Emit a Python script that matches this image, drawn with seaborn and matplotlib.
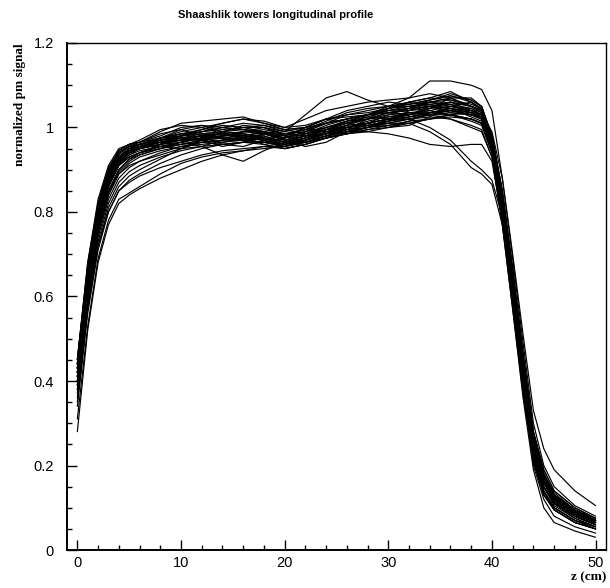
import numpy as np
import pandas as pd
import matplotlib
matplotlib.use("Agg")
import matplotlib.pyplot as plt
from matplotlib.ticker import MultipleLocator, FormatStrFormatter
import seaborn as sns

z_cm = [0, 1, 2, 3, 4, 5, 6, 8, 10, 12, 14, 16, 18, 20, 22, 24, 26, 28, 30,
        32, 34, 36, 38, 39, 40, 41, 42, 43, 44, 45, 46, 48, 50]

# normalized pm signal, one list per tower
tower_01 = [0.45, 0.67, 0.81, 0.90, 0.945, 0.96, 0.965, 0.99, 1.01, 1.015, 1.02, 1.025, 1.01, 1.0, 1.02, 1.04, 1.05,
            1.06, 1.065, 1.07, 1.08, 1.07, 1.05, 1.04, 0.97, 0.82, 0.63, 0.43, 0.25, 0.17, 0.12, 0.085, 0.065]
tower_02 = [0.44, 0.66, 0.80, 0.89, 0.94, 0.955, 0.96, 0.975, 0.985, 0.99, 1.0, 0.995, 0.99, 0.975, 0.99, 1.01, 1.03,
            1.04, 1.05, 1.06, 1.07, 1.085, 1.06, 1.04, 0.97, 0.83, 0.64, 0.44, 0.26, 0.17, 0.13, 0.09, 0.07]
tower_03 = [0.43, 0.65, 0.80, 0.885, 0.93, 0.95, 0.955, 0.965, 0.97, 0.975, 0.98, 0.99, 0.985, 0.97, 0.98, 0.995, 1.0,
            1.01, 1.02, 1.03, 1.04, 1.05, 1.04, 1.03, 0.96, 0.81, 0.62, 0.42, 0.24, 0.16, 0.12, 0.085, 0.065]
tower_04 = [0.42, 0.64, 0.79, 0.88, 0.925, 0.945, 0.95, 0.96, 0.975, 0.985, 0.975, 0.97, 0.98, 0.965, 0.975, 0.99, 1.005,
            1.02, 1.035, 1.04, 1.05, 1.04, 1.03, 1.025, 0.95, 0.79, 0.59, 0.39, 0.22, 0.14, 0.10, 0.07, 0.055]
tower_05 = [0.41, 0.63, 0.78, 0.87, 0.915, 0.94, 0.95, 0.965, 0.98, 0.995, 1.005, 1.0, 0.99, 0.98, 1.0, 1.02, 1.025,
            1.03, 1.04, 1.045, 1.06, 1.07, 1.05, 1.04, 0.98, 0.85, 0.66, 0.46, 0.27, 0.18, 0.13, 0.095, 0.07]
tower_06 = [0.44, 0.66, 0.81, 0.895, 0.94, 0.955, 0.96, 0.97, 0.975, 0.97, 0.965, 0.975, 0.985, 0.97, 0.98, 1.0, 1.015,
            1.02, 1.03, 1.035, 1.03, 1.02, 1.0, 0.99, 0.93, 0.77, 0.57, 0.37, 0.21, 0.13, 0.095, 0.065, 0.05]
tower_07 = [0.40, 0.61, 0.76, 0.85, 0.90, 0.925, 0.935, 0.95, 0.96, 0.97, 0.98, 0.985, 0.975, 0.96, 0.97, 0.985, 1.0,
            1.015, 1.025, 1.03, 1.045, 1.06, 1.05, 1.035, 0.97, 0.83, 0.64, 0.44, 0.26, 0.17, 0.125, 0.09, 0.07]
tower_08 = [0.38, 0.59, 0.74, 0.83, 0.88, 0.905, 0.92, 0.94, 0.955, 0.965, 0.97, 0.975, 0.97, 0.955, 0.965, 0.98, 0.99,
            1.0, 1.01, 1.02, 1.03, 1.035, 1.03, 1.02, 0.96, 0.82, 0.63, 0.43, 0.25, 0.165, 0.12, 0.085, 0.065]
tower_09 = [0.36, 0.57, 0.72, 0.80, 0.85, 0.87, 0.885, 0.905, 0.92, 0.935, 0.945, 0.95, 0.955, 0.95, 0.96, 0.975, 0.985,
            0.995, 1.0, 1.01, 1.02, 1.03, 1.02, 1.01, 0.95, 0.80, 0.61, 0.41, 0.23, 0.15, 0.11, 0.08, 0.06]
tower_10 = [0.28, 0.52, 0.68, 0.77, 0.82, 0.84, 0.855, 0.88, 0.90, 0.92, 0.935, 0.945, 0.955, 0.955, 0.965, 0.98, 0.99,
            1.0, 1.005, 1.01, 1.02, 1.03, 1.02, 1.01, 0.96, 0.81, 0.62, 0.42, 0.24, 0.16, 0.12, 0.085, 0.065]
tower_11 = [0.31, 0.53, 0.69, 0.78, 0.83, 0.845, 0.86, 0.89, 0.915, 0.93, 0.94, 0.945, 0.95, 0.955, 0.97, 0.985, 1.0,
            1.01, 1.02, 1.025, 1.03, 1.04, 1.03, 1.02, 0.97, 0.84, 0.66, 0.46, 0.28, 0.19, 0.14, 0.10, 0.075]
tower_12 = [0.42, 0.63, 0.78, 0.87, 0.92, 0.94, 0.95, 0.96, 0.965, 0.955, 0.935, 0.92, 0.945, 0.965, 0.98, 0.995, 1.005,
            1.01, 1.02, 1.03, 1.035, 1.04, 1.03, 1.02, 0.95, 0.80, 0.61, 0.41, 0.23, 0.15, 0.11, 0.08, 0.06]
tower_13 = [0.43, 0.65, 0.80, 0.885, 0.93, 0.95, 0.96, 0.97, 0.98, 0.99, 0.995, 1.0, 1.0, 0.99, 1.03, 1.07, 1.085,
            1.065, 1.05, 1.055, 1.06, 1.05, 1.04, 1.03, 0.96, 0.82, 0.63, 0.43, 0.25, 0.165, 0.12, 0.085, 0.065]
tower_14 = [0.42, 0.64, 0.79, 0.875, 0.925, 0.945, 0.955, 0.97, 0.98, 0.985, 0.99, 0.995, 0.985, 0.975, 0.99, 1.01, 1.02,
            1.03, 1.05, 1.07, 1.11, 1.11, 1.10, 1.09, 1.04, 0.88, 0.69, 0.49, 0.30, 0.20, 0.15, 0.105, 0.08]
tower_15 = [0.41, 0.63, 0.78, 0.87, 0.915, 0.935, 0.945, 0.955, 0.965, 0.975, 0.98, 0.985, 0.98, 0.965, 0.98, 0.995, 1.0,
            1.005, 1.01, 1.01, 0.99, 0.96, 0.905, 0.89, 0.865, 0.77, 0.60, 0.41, 0.23, 0.15, 0.11, 0.08, 0.06]
tower_16 = [0.39, 0.60, 0.75, 0.84, 0.89, 0.915, 0.93, 0.945, 0.955, 0.96, 0.965, 0.97, 0.965, 0.955, 0.97, 0.99, 1.0,
            1.01, 1.02, 1.02, 1.0, 0.97, 0.92, 0.90, 0.875, 0.79, 0.61, 0.42, 0.24, 0.16, 0.115, 0.08, 0.06]
tower_17 = [0.43, 0.65, 0.80, 0.88, 0.925, 0.945, 0.95, 0.96, 0.97, 0.98, 0.985, 0.98, 0.97, 0.96, 0.975, 0.985, 0.99,
            0.99, 0.985, 0.975, 0.96, 0.955, 0.96, 0.96, 0.92, 0.78, 0.60, 0.40, 0.22, 0.14, 0.10, 0.07, 0.05]
tower_18 = [0.44, 0.67, 0.82, 0.90, 0.94, 0.955, 0.96, 0.975, 0.99, 1.0, 1.01, 1.02, 1.015, 1.0, 1.005, 1.02, 1.03,
            1.035, 1.045, 1.055, 1.065, 1.075, 1.065, 1.05, 0.98, 0.84, 0.65, 0.45, 0.27, 0.18, 0.13, 0.09, 0.07]
tower_19 = [0.42, 0.64, 0.79, 0.88, 0.925, 0.945, 0.955, 0.965, 0.97, 0.97, 0.975, 0.98, 0.99, 0.985, 0.99, 1.0, 1.01,
            1.025, 1.04, 1.05, 1.055, 1.045, 1.025, 1.015, 0.95, 0.80, 0.61, 0.41, 0.23, 0.15, 0.105, 0.075, 0.055]
tower_20 = [0.40, 0.62, 0.77, 0.86, 0.91, 0.93, 0.94, 0.955, 0.96, 0.965, 0.96, 0.965, 0.975, 0.97, 0.985, 1.005, 1.02,
            1.03, 1.035, 1.04, 1.045, 1.05, 1.045, 1.03, 0.96, 0.82, 0.63, 0.43, 0.25, 0.17, 0.125, 0.09, 0.07]
tower_21 = [0.45, 0.68, 0.83, 0.91, 0.95, 0.96, 0.965, 0.975, 0.98, 0.985, 0.99, 0.985, 0.975, 0.965, 0.97, 0.98, 0.995,
            1.005, 1.015, 1.025, 1.035, 1.04, 1.035, 1.025, 0.95, 0.78, 0.58, 0.38, 0.20, 0.12, 0.08, 0.055, 0.04]
tower_22 = [0.41, 0.62, 0.77, 0.86, 0.91, 0.93, 0.94, 0.95, 0.96, 0.97, 0.975, 0.975, 0.97, 0.96, 0.97, 0.985, 0.995,
            1.0, 1.01, 1.02, 1.03, 1.03, 1.02, 1.01, 0.94, 0.77, 0.57, 0.36, 0.19, 0.10, 0.065, 0.045, 0.03]
tower_23 = [0.43, 0.65, 0.79, 0.88, 0.925, 0.945, 0.955, 0.965, 0.975, 0.98, 0.985, 0.99, 0.99, 0.98, 0.995, 1.01, 1.02,
            1.03, 1.04, 1.045, 1.05, 1.055, 1.045, 1.035, 0.99, 0.88, 0.70, 0.51, 0.33, 0.24, 0.19, 0.14, 0.105]
tower_24 = [0.37, 0.58, 0.73, 0.82, 0.87, 0.895, 0.91, 0.93, 0.945, 0.955, 0.96, 0.965, 0.96, 0.95, 0.96, 0.975, 0.99,
            1.0, 1.015, 1.025, 1.035, 1.045, 1.04, 1.03, 0.97, 0.83, 0.64, 0.44, 0.26, 0.17, 0.125, 0.09, 0.07]
tower_25 = [0.44, 0.66, 0.81, 0.895, 0.94, 0.955, 0.96, 0.97, 0.975, 0.98, 0.975, 0.97, 0.965, 0.96, 0.975, 0.995, 1.01,
            1.02, 1.025, 1.035, 1.04, 1.03, 1.015, 1.005, 0.94, 0.79, 0.59, 0.39, 0.21, 0.135, 0.095, 0.065, 0.05]
tower_26 = [0.42, 0.63, 0.78, 0.87, 0.92, 0.94, 0.95, 0.96, 0.97, 0.98, 0.99, 1.0, 1.005, 0.995, 1.0, 1.01, 1.02,
            1.03, 1.045, 1.06, 1.07, 1.065, 1.05, 1.04, 0.97, 0.83, 0.64, 0.44, 0.26, 0.17, 0.125, 0.09, 0.065]
tower_27 = [0.39, 0.60, 0.75, 0.845, 0.895, 0.92, 0.935, 0.95, 0.965, 0.975, 0.98, 0.98, 0.975, 0.96, 0.965, 0.975, 0.985,
            0.995, 1.005, 1.015, 1.02, 1.025, 1.02, 1.01, 0.95, 0.80, 0.60, 0.40, 0.22, 0.14, 0.10, 0.07, 0.055]
tower_28 = [0.45, 0.68, 0.82, 0.905, 0.945, 0.96, 0.965, 0.98, 1.0, 1.005, 1.0, 0.995, 0.99, 0.975, 0.985, 1.0, 1.015,
            1.03, 1.045, 1.05, 1.06, 1.065, 1.055, 1.045, 0.98, 0.85, 0.66, 0.46, 0.28, 0.18, 0.135, 0.095, 0.075]
tower_29 = [0.34, 0.56, 0.71, 0.80, 0.85, 0.875, 0.89, 0.915, 0.935, 0.95, 0.96, 0.965, 0.965, 0.955, 0.965, 0.98, 0.995,
            1.005, 1.015, 1.02, 1.025, 1.02, 1.005, 0.995, 0.93, 0.78, 0.59, 0.39, 0.21, 0.13, 0.095, 0.065, 0.05]
tower_30 = [0.43, 0.65, 0.80, 0.885, 0.93, 0.95, 0.955, 0.965, 0.97, 0.975, 0.98, 0.99, 0.995, 0.985, 0.995, 1.015, 1.035,
            1.045, 1.05, 1.05, 1.055, 1.06, 1.05, 1.04, 0.97, 0.84, 0.65, 0.45, 0.27, 0.18, 0.13, 0.095, 0.07]
tower_31 = [0.40, 0.62, 0.77, 0.86, 0.91, 0.935, 0.95, 0.975, 0.995, 1.005, 0.99, 0.97, 0.965, 0.975, 1.0, 1.02, 1.01,
            1.0, 1.015, 1.04, 1.06, 1.055, 1.035, 1.025, 0.96, 0.82, 0.63, 0.43, 0.25, 0.165, 0.12, 0.085, 0.065]
tower_32 = [0.44, 0.66, 0.80, 0.89, 0.935, 0.955, 0.965, 0.985, 0.995, 0.98, 0.96, 0.955, 0.97, 0.985, 0.995, 0.99, 0.995,
            1.02, 1.045, 1.06, 1.05, 1.035, 1.03, 1.025, 0.96, 0.81, 0.62, 0.42, 0.24, 0.16, 0.115, 0.08, 0.06]
tower_33 = [0.38, 0.60, 0.75, 0.84, 0.89, 0.91, 0.92, 0.935, 0.95, 0.97, 0.99, 1.005, 1.0, 0.985, 0.98, 0.985, 1.005,
            1.03, 1.035, 1.03, 1.045, 1.07, 1.07, 1.05, 0.98, 0.85, 0.67, 0.47, 0.28, 0.19, 0.14, 0.10, 0.075]
tower_34 = [0.43, 0.65, 0.80, 0.885, 0.93, 0.95, 0.96, 0.955, 0.95, 0.955, 0.97, 0.99, 1.0, 0.98, 0.965, 0.975, 1.0,
            1.01, 1.0, 1.005, 1.025, 1.05, 1.06, 1.045, 0.97, 0.83, 0.64, 0.44, 0.26, 0.17, 0.125, 0.09, 0.07]
tower_35 = [0.35, 0.57, 0.72, 0.81, 0.86, 0.885, 0.90, 0.925, 0.95, 0.965, 0.97, 0.97, 0.975, 0.965, 0.975, 0.995, 1.015,
            1.025, 1.02, 1.03, 1.05, 1.06, 1.04, 1.03, 0.96, 0.82, 0.63, 0.43, 0.25, 0.17, 0.12, 0.085, 0.065]
tower_36 = [0.45, 0.67, 0.82, 0.90, 0.945, 0.96, 0.97, 0.995, 1.005, 1.0, 0.985, 0.98, 0.99, 0.97, 0.955, 0.965, 0.99,
            1.01, 1.03, 1.045, 1.065, 1.075, 1.06, 1.045, 0.97, 0.82, 0.63, 0.43, 0.25, 0.17, 0.12, 0.085, 0.065]
tower_37 = [0.42, 0.64, 0.79, 0.875, 0.92, 0.94, 0.95, 0.97, 0.985, 0.97, 0.955, 0.965, 0.985, 0.995, 1.0, 0.99, 0.985,
            1.0, 1.02, 1.035, 1.035, 1.03, 1.035, 1.03, 0.96, 0.81, 0.62, 0.42, 0.24, 0.16, 0.115, 0.08, 0.06]
tower_38 = [0.39, 0.61, 0.76, 0.85, 0.90, 0.925, 0.94, 0.96, 0.98, 0.99, 1.0, 1.01, 1.005, 0.99, 1.0, 1.02, 1.04,
            1.05, 1.06, 1.055, 1.065, 1.08, 1.065, 1.05, 0.98, 0.84, 0.65, 0.45, 0.27, 0.18, 0.13, 0.095, 0.07]
tower_39 = [0.41, 0.63, 0.78, 0.865, 0.91, 0.93, 0.94, 0.955, 0.965, 0.975, 0.985, 0.975, 0.96, 0.95, 0.96, 0.975, 0.985,
            0.99, 1.0, 1.015, 1.035, 1.045, 1.035, 1.025, 0.95, 0.80, 0.61, 0.41, 0.23, 0.15, 0.11, 0.075, 0.055]
tower_40 = [0.44, 0.66, 0.81, 0.895, 0.94, 0.955, 0.96, 0.975, 0.985, 0.995, 1.01, 1.02, 1.01, 0.995, 0.985, 0.995, 1.01,
            1.02, 1.035, 1.045, 1.05, 1.045, 1.035, 1.03, 0.97, 0.83, 0.64, 0.44, 0.26, 0.17, 0.125, 0.09, 0.07]

towers = [tower_01, tower_02, tower_03, tower_04, tower_05, tower_06, tower_07, tower_08, tower_09, tower_10,
          tower_11, tower_12, tower_13, tower_14, tower_15, tower_16, tower_17, tower_18, tower_19, tower_20,
          tower_21, tower_22, tower_23, tower_24, tower_25, tower_26, tower_27, tower_28, tower_29, tower_30,
          tower_31, tower_32, tower_33, tower_34, tower_35, tower_36, tower_37, tower_38, tower_39, tower_40]

# tidy frame: one row per (tower, z)
rows = []
for i, prof in enumerate(towers):
    for z, v in zip(z_cm, prof):
        rows.append((i, z, v))
df = pd.DataFrame(rows, columns=["tower", "z", "signal"])

sns.set_style("white")
plt.rcParams["font.family"] = ["Liberation Sans", "DejaVu Sans"]
plt.rcParams["text.color"] = "black"
plt.rcParams["axes.labelcolor"] = "black"

fig = plt.figure(figsize=(6.1, 5.88), dpi=100)
ax = fig.add_axes([0.1098, 0.0646, 0.8836, 0.8623])

sns.lineplot(data=df, x="z", y="signal", units="tower", estimator=None,
             color="black", linewidth=0.85, ax=ax, legend=False)

ax.set_xlim(-1, 51)
ax.set_ylim(0, 1.2)
ax.xaxis.set_major_locator(MultipleLocator(10))
ax.xaxis.set_minor_locator(MultipleLocator(2))
ax.yaxis.set_major_locator(MultipleLocator(0.2))
ax.yaxis.set_minor_locator(MultipleLocator(0.05))
ax.yaxis.set_major_formatter(FormatStrFormatter("%g"))
ax.xaxis.set_major_formatter(FormatStrFormatter("%g"))

ax.tick_params(which="both", direction="in", color="black", width=1,
               bottom=True, left=True, top=False, right=False,
               labelsize=10.5, labelcolor="black")
ax.tick_params(which="major", length=7.2)
ax.tick_params(which="minor", length=3.6)
ax.tick_params(axis="y", which="major", pad=9.5)
ax.tick_params(axis="x", which="major", pad=4.5)

for sp in ax.spines.values():
    sp.set_color("black")
    sp.set_linewidth(1.0)
ax.spines["left"].set_linewidth(1.4)
ax.spines["bottom"].set_linewidth(1.4)

serif = ["Liberation Serif", "DejaVu Serif"]
ax.set_xlabel("z (cm)", loc="right", fontsize=9.5, fontweight="bold", family=serif)
ax.xaxis.set_label_coords(1.0, -0.041)
ax.set_ylabel("normalized pm signal", loc="top", fontsize=9.5, fontweight="bold", family=serif)
ax.yaxis.set_label_coords(-0.076, 1.0)

fig.text(0.4525, 0.974, "Shaashlik towers longitudinal profile", ha="center", va="center",
         fontsize=8, fontweight="bold", color="black")

fig.savefig("out.png", dpi=100, facecolor="white")
